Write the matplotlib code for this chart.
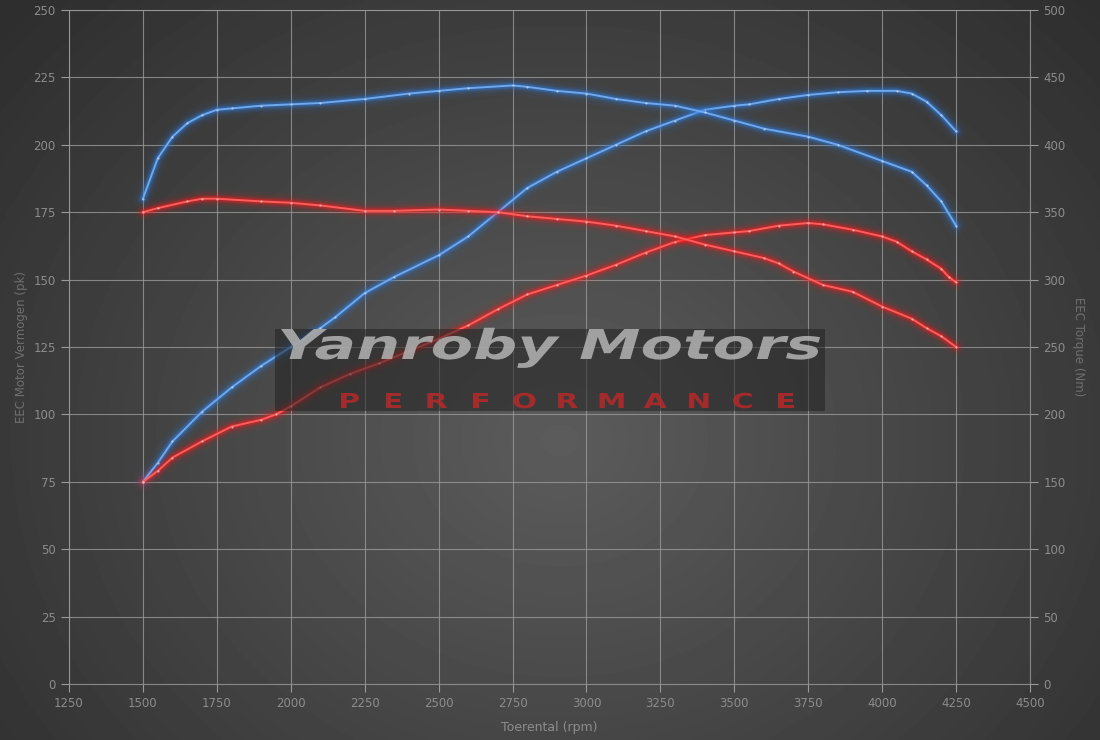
import numpy as np
import matplotlib
matplotlib.use("Agg")
import matplotlib.pyplot as plt
from matplotlib.patches import Rectangle, PathPatch
from matplotlib.textpath import TextPath
from matplotlib.font_manager import FontProperties
from matplotlib.transforms import Affine2D

# stock (red) and tuned (blue) dyno runs
rpm_blue_trq = [1500, 1550, 1600, 1650, 1700, 1750, 1800, 1900, 2000, 2100, 2250, 2400, 2500,
                2600, 2750, 2800, 2900, 3000, 3100, 3200, 3300, 3400, 3500, 3600, 3750, 3850,
                4000, 4100, 4150, 4200, 4250]
trq_blue = [360, 390, 406, 416, 422, 426, 427, 429, 430, 431, 434, 438, 440,
            442, 444, 443, 440, 438, 434, 431, 429, 424, 418, 412, 406, 400,
            388, 380, 370, 358, 340]

rpm_blue_pwr = [1500, 1550, 1600, 1700, 1800, 1900, 2000, 2100, 2150, 2250, 2350, 2500, 2600,
                2700, 2800, 2900, 3000, 3100, 3200, 3300, 3400, 3500, 3550, 3650, 3750, 3850,
                3950, 4050, 4100, 4150, 4200, 4250]
pwr_blue = [75, 82, 90, 101, 110, 118, 125, 132, 136, 145, 151, 159, 166,
            175, 184, 190, 195, 200, 205, 209, 213, 214.5, 215, 217, 218.5, 219.5,
            220, 220, 219, 216, 211, 205]

rpm_red_trq = [1500, 1550, 1650, 1700, 1750, 1900, 2000, 2100, 2250, 2350, 2500, 2600, 2700,
               2800, 2900, 3000, 3100, 3200, 3300, 3400, 3500, 3600, 3650, 3700, 3800, 3900,
               4000, 4100, 4150, 4200, 4250]
trq_red = [350, 353, 358, 360, 360, 358, 357, 355, 351, 351, 352, 351, 350,
           347, 345, 343, 340, 336, 332, 326, 321, 316, 312, 306, 296, 291,
           280, 271, 264, 258, 250]

rpm_red_pwr = [1500, 1550, 1600, 1700, 1800, 1900, 1950, 2000, 2100, 2200, 2300, 2400, 2500,
               2600, 2700, 2800, 2900, 3000, 3100, 3200, 3300, 3400, 3500, 3550, 3650, 3750,
               3800, 3900, 4000, 4050, 4100, 4150, 4200, 4225, 4250]
pwr_red = [75, 79, 84, 90, 95.5, 98, 100, 103, 110, 115, 119, 123.5, 128,
           133, 139, 144.5, 148, 151.5, 155.5, 160, 164, 166.5, 167.5, 168, 170, 171,
           170.5, 168.5, 166, 164, 160.5, 157.5, 154, 151, 149]

brand = "Yanroby Motors"
tagline = "PERFORMANCE"

GRID = "#9a9a9a"
TXT = "#8c8c8c"

fig = plt.figure(figsize=(11, 7.4), dpi=100)

# radial gradient background
bg = fig.add_axes([0, 0, 1, 1], zorder=-10)
yy, xx = np.mgrid[0:740, 0:1100]
r = np.sqrt(((xx - 560) / 700.0) ** 2 + ((yy - 440) / 600.0) ** 2)
shade = np.clip(0.36 - 0.17 * r, 0.18, 0.36)
bg.imshow(shade, cmap="gray", vmin=0, vmax=1, aspect="auto")
bg.axis("off")

ax = fig.add_axes([69 / 1100, 56 / 740, 961 / 1100, 674 / 740])
ax.patch.set_alpha(0)
ax.set_xlim(1250, 4500)
ax.set_ylim(0, 250)
ax.set_xticks(np.arange(1250, 4501, 250))
ax.set_yticks(np.arange(0, 251, 25))
ax.grid(True, color=GRID, lw=0.8, alpha=0.8)
for s in ax.spines.values():
    s.set_color(GRID)
    s.set_alpha(0.8)
    s.set_linewidth(0.8)
ax.tick_params(colors=GRID, labelcolor=TXT, labelsize=8.5, length=6, width=0.8)
ax.set_xlabel("Toerental (rpm)", color=TXT, fontsize=9, labelpad=8)
ax.set_ylabel("EEC Motor Vermogen (pk)", color="#6f6f6f", fontsize=8.5, labelpad=4)

ax2 = ax.twinx()
ax2.set_ylim(0, 500)
ax2.set_yticks(np.arange(0, 501, 50))
for s in ax2.spines.values():
    s.set_visible(False)
ax2.tick_params(colors=GRID, labelcolor=TXT, labelsize=8.5, length=6, width=0.8)
ax2.set_ylabel("EEC Torque (Nm)", color="#6f6f6f", fontsize=8.5, rotation=270, labelpad=14)


def glow(axis, x, y, base, core):
    for lw, a in [(14, 0.04), (10, 0.06), (7.5, 0.1), (5.5, 0.16), (3.8, 0.3)]:
        axis.plot(x, y, color=base, lw=lw, alpha=a, solid_capstyle="round", zorder=3)
    axis.plot(x, y, color=core, lw=1.4, zorder=4)
    axis.plot(x, y, ls="none", marker="o", ms=1.6, color="#e8e8e8", mew=0, alpha=0.6, zorder=5)


BLUE, BLUE_C = "#2f7ee0", "#6fa8ee"
RED, RED_C = "#ff1a1a", "#ff5c5c"
glow(ax2, rpm_blue_trq, trq_blue, BLUE, BLUE_C)
glow(ax, rpm_blue_pwr, pwr_blue, BLUE, BLUE_C)
glow(ax2, rpm_red_trq, trq_red, RED, RED_C)
glow(ax, rpm_red_pwr, pwr_red, RED, RED_C)

# watermark, in pixel coordinates (y down)
wm = fig.add_axes([0, 0, 1, 1], zorder=5)
wm.set_xlim(0, 1100)
wm.set_ylim(740, 0)
wm.axis("off")
wm.add_patch(Rectangle((275, 329), 550, 82, color="#222222", alpha=0.55, lw=0))


def stretched_text(s, fp, x0, y_base, cap_px, color, alpha, x1=None, xstretch=1.0, center=False):
    tp = TextPath((0, 0), s, size=100, prop=fp)
    ext = tp.get_extents()
    cap = TextPath((0, 0), "M", size=100, prop=fp).get_extents().height
    sy = cap_px / cap
    sx = (x1 - x0) / ext.width if x1 is not None else sy * xstretch
    shift = -(ext.x0 + ext.width / 2) if center else -ext.x0
    tr = Affine2D().translate(shift, 0).scale(sx, -sy).translate(x0, y_base)
    wm.add_patch(PathPatch(tr.transform_path(tp), fc=color, ec="none", alpha=alpha))


fp_brand = FontProperties(family="DejaVu Sans", weight="bold", style="oblique")
stretched_text(brand, fp_brand, 281, 359, 30, "#b4b4b4", 0.85, x1=820)

fp_tag = FontProperties(family="DejaVu Sans", weight="bold")
centers = np.linspace(350, 786, len(tagline))
for ch, cx in zip(tagline, centers):
    stretched_text(ch, fp_tag, cx, 408, 15, "#c02828", 0.8, xstretch=1.45, center=True)

fig.savefig("out.png", dpi=100)
